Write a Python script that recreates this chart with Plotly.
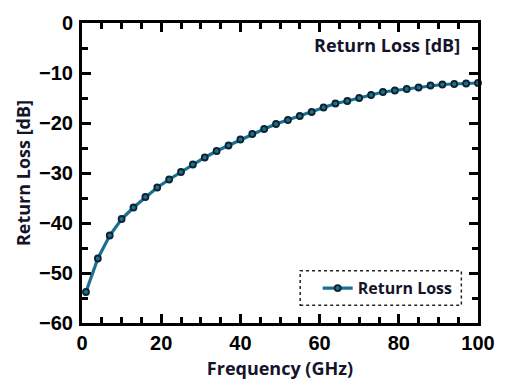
import plotly.graph_objects as go

freq_ghz = [1, 4, 7, 10, 13, 16, 19, 22, 25, 28, 31, 34, 37, 40, 43, 46, 49,
            52, 55, 58, 61, 64, 67, 70, 73, 76, 79, 82, 85, 88, 91, 94, 97, 100]
return_loss_db = [-53.8, -47.1, -42.5, -39.2, -36.9, -34.8, -32.9, -31.3, -29.8, -28.3,
                  -26.9, -25.6, -24.5, -23.3, -22.2, -21.2, -20.2,
                  -19.4, -18.6, -17.8, -16.9, -16.1, -15.6, -15.0, -14.4, -13.8,
                  -13.5, -13.2, -12.9, -12.5, -12.3, -12.2, -12.1, -12.0]
series_name = "Return Loss"
x_title = "Frequency (GHz)"
y_title = "Return Loss [dB]"
annotation_text = "Return Loss [dB]"

label_font = "Open Sans, Noto Sans, sans-serif"
tick_font = "Liberation Sans, Arial, sans-serif"
text_color = "#14142b"

fig = go.Figure()
fig.add_trace(go.Scatter(
    x=freq_ghz, y=return_loss_db, name=series_name, mode="lines+markers",
    line=dict(color="#1b6f91", width=3.2),
    marker=dict(symbol="circle", size=6, color="#1b6f91",
                line=dict(color="#0c2430", width=1.8)),
    cliponaxis=False,
))

axis_common = dict(
    showline=True, linecolor="black", linewidth=3, mirror="ticks",
    ticks="inside", ticklen=9, tickwidth=3, tickcolor="black",
    showgrid=False, zeroline=False,
    tickfont=dict(family=tick_font, size=20, color="black", weight="bold"),
)

fig.update_xaxes(
    range=[0, 100], tickmode="linear", tick0=0, dtick=20,
    minor=dict(ticks="inside", ticklen=6, tickwidth=3, tickcolor="black", dtick=5, tick0=0),
    title=dict(text=x_title, standoff=10,
               font=dict(family=label_font, size=18, color=text_color, weight="bold")),
    **axis_common,
)
fig.update_yaxes(
    range=[-60, 0], tickmode="linear", tick0=-60, dtick=10,
    minor=dict(ticks="inside", ticklen=6, tickwidth=3, tickcolor="black", dtick=5, tick0=0),
    title=dict(text=y_title, standoff=4,
               font=dict(family=label_font, size=18, color=text_color, weight="bold")),
    ticklabelstandoff=2,
    **axis_common,
)

fig.add_annotation(
    xref="paper", yref="paper", x=0.96, y=0.925, xanchor="right", yanchor="middle",
    text=annotation_text, showarrow=False,
    font=dict(family=label_font, size=18, color=text_color, weight="bold"),
)

fig.add_shape(
    type="rect", xref="paper", yref="paper",
    x0=0.551, x1=0.958, y0=0.059, y1=0.174,
    line=dict(color="#222222", width=1.5, dash="dot"), fillcolor="rgba(0,0,0,0)",
)

fig.update_layout(
    width=507, height=390,
    margin=dict(l=82, r=17, t=18, b=67),
    paper_bgcolor="white", plot_bgcolor="white",
    showlegend=True,
    legend=dict(x=0.772, y=0.116, xanchor="center", yanchor="middle",
                bgcolor="rgba(0,0,0,0)", borderwidth=0, itemwidth=30,
                font=dict(family=label_font, size=16, color=text_color, weight="bold")),
)

fig.write_html("out.html")
